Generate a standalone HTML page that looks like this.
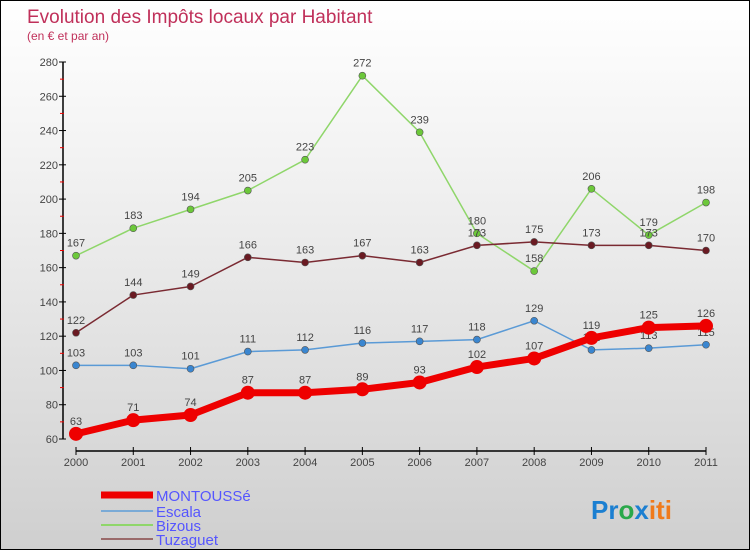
<!DOCTYPE html>
<html><head><meta charset="utf-8"><style>
body{margin:0;width:750px;height:550px;overflow:hidden;font-family:"Liberation Sans",sans-serif}
#c{position:absolute;left:0;top:0;width:748px;height:548px;border:1px solid #000;background:linear-gradient(#ffffff,#f2f2f2 30%,#cfcfcf)}
</style></head><body>
<div id="c">
<svg id="s" width="748" height="548" xmlns="http://www.w3.org/2000/svg">
<text x="26" y="22" font-size="19" fill="#c0305a">Evolution des Impôts locaux par Habitant</text>
<text x="26" y="39" font-size="12" fill="#c0305a">(en € et par an)</text>
<g id="g"></g>
<text x="590" y="518" font-size="26" font-weight="bold"><tspan fill="#1b7fd1">Pr</tspan><tspan fill="#2aa84a">o</tspan><tspan fill="#1b7fd1">x</tspan><tspan fill="#f07a1a">iti</tspan></text>
</svg></div>
<script>
const years=["2000","2001","2002","2003","2004","2005","2006","2007","2008","2009","2010","2011"];
const yTicks=[60,80,100,120,140,160,180,200,220,240,260,280];
const montousse=[63,71,74,87,87,89,93,102,107,119,125,126];
const escala=[103,103,101,111,112,116,117,118,129,112,113,115];
const bizous=[167,183,194,205,223,272,239,180,158,206,179,198];
const tuzaguet=[122,144,149,166,163,167,163,173,175,173,173,170];
const NS="http://www.w3.org/2000/svg";
const g=document.getElementById('g');
const X=i=>75+i*(705-75)/11;
const Y=v=>438-(v-60)*(438-61)/220;
function el(t,a,p){const e=document.createElementNS(NS,t);for(const k in a)e.setAttribute(k,a[k]);(p||g).appendChild(e);return e;}
// axes
let ya=el('line',{x1:62,y1:Y(280),x2:62,y2:Y(60),stroke:'#000','stroke-width':1.5});


yTicks.forEach((v,i)=>{
 let t=el('text',{x:57,y:Y(v)+4,'text-anchor':'end','font-size':11,fill:'#444'});t.textContent=v;
 
 
 el('line',{x1:58,y1:Y(v),x2:65,y2:Y(v),stroke:'#000'});
 if(i<yTicks.length-1)el('line',{x1:59,y1:Y(v+10),x2:63,y2:Y(v+10),stroke:'#e00'});
});
let xa=el('line',{x1:75,y1:450,x2:705,y2:450,stroke:'#000','stroke-width':1.5});


years.forEach((y,i)=>{
 el('line',{x1:X(i),y1:446,x2:X(i),y2:454,stroke:'#000'});
 let t=el('text',{x:X(i),y:465,'text-anchor':'middle','font-size':11,fill:'#444'});t.textContent=y;
 
 
});
const series=[
 {name:'bizous',d:bizous,c:'#8fd66a',dot:'#6cc83a',w:1.5,r:3.5},
 {name:'tuzaguet',d:tuzaguet,c:'#7a2a32',dot:'#6a1a22',w:1.5,r:3.5},
 {name:'escala',d:escala,c:'#5a9ad6',dot:'#3a86d0',w:1.5,r:3.5},
 {name:'montousse',d:montousse,c:'#ee0000',dot:'#ee0000',w:7,r:7}
];
series.forEach(s=>{
 let p=el('polyline',{points:s.d.map((v,i)=>X(i)+','+Y(v)).join(' '),fill:'none',stroke:s.c,'stroke-width':s.w,'stroke-linejoin':'round'});
 
 
 s.d.forEach((v,i)=>{
  let c=el('circle',{cx:X(i),cy:Y(v),r:s.r,fill:s.dot,stroke:s.w>2?'none':'#555','stroke-width':0.6});
  
  
  let t=el('text',{x:X(i),y:Y(v)-9,'text-anchor':'middle','font-size':11,fill:'#444'});t.textContent=v;
  
  
 });
});
// legend
const leg=[['MONTOUSSé','#ee0000',7,494],['Escala','#7aaad6',2,510],['Bizous','#8fd66a',2,524],['Tuzaguet','#9a6a6a',2,538]];
leg.forEach(l=>{
 let ln=el('line',{x1:100,y1:l[3],x2:152,y2:l[3],stroke:l[1],'stroke-width':l[2]});
 
 
 let t=el('text',{x:155,y:l[3]+6,'font-size':15,fill:'#5555ff'});t.textContent=l[0];
 
 
});
</script>
</body></html>
